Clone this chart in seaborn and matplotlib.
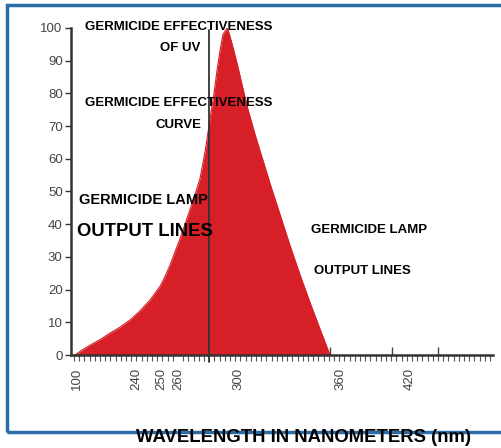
import numpy as np
import matplotlib
matplotlib.use("Agg")
import matplotlib.pyplot as plt
import matplotlib.patches as mpatches
from matplotlib.ticker import FixedLocator, NullFormatter
import seaborn as sns

# germicide effectiveness curve (wavelength nm, relative %)
wavelength = [95.3, 111.9, 130.8, 154.6, 178.3, 202.0, 225.8, 241.6, 245.6, 249.6, 252.4, 255.3,
              258.2, 261.3, 264.7, 268, 271.3, 274.7, 278, 281.3, 284, 286, 288, 290, 292.7,
              294, 296.7, 300, 302.9, 305.9, 310, 312.9, 315.9, 318.8, 324.7, 330.6, 336.5,
              342.4, 348.2, 354.1]
effectiveness = [0, 1.5, 3, 4.7, 6.7, 8.5, 10.7, 13.5, 16.8, 21, 24, 27.5,
                 31.5, 35.5, 40, 44.5, 49, 54, 62, 72, 80, 87, 93, 98, 100,
                 98.5, 94, 88, 81.5, 75, 67.5, 62.5, 57.5, 52.5, 43, 33.5, 24.5,
                 16, 8, 0]
lamp_line = 280.7

x_ticks = [100, 240, 250, 260, 300, 360, 420]
y_ticks = list(range(0, 101, 10))

# the original axis is not linear: anchor wavelengths -> position along the axis
scale_nm = [85.8, 100, 240, 250, 260, 300, 360, 420, 491.1]
scale_pos = [71, 77, 136, 161, 178, 238, 340, 410, 493]

def forward(v):
    return np.interp(v, scale_nm, scale_pos)

def inverse(p):
    return np.interp(p, scale_pos, scale_nm)

sns.set_style("ticks")
plt.rcParams['font.family'] = ['Liberation Sans', 'DejaVu Sans']

red = '#d61f27'
fig = plt.figure(figsize=(5.01, 4.48), dpi=100)
ax = fig.add_axes([71/501, 1-355/448, 422/501, 327/448])
ax.set_xscale('function', functions=(forward, inverse))

sns.lineplot(x=wavelength, y=effectiveness, color=red, lw=0.8, ax=ax)
ax.fill_between(wavelength, effectiveness, color=red, lw=0)

ax.set_xlim(85.8, 491.1)
ax.set_ylim(0, 100)
ax.set_xticks(x_ticks)
ax.set_xticklabels([str(t) for t in x_ticks], rotation=90, fontsize=9.5, color='#444')
ax.set_yticks(y_ticks)
ax.set_yticklabels([str(t) for t in y_ticks], fontsize=9.5, color='#444')
ax.xaxis.set_minor_locator(FixedLocator(inverse(np.arange(74, 494, 5.2))))
ax.xaxis.set_minor_formatter(NullFormatter())
ax.tick_params(axis='x', which='major', length=0, pad=9)
ax.tick_params(axis='x', which='minor', length=4, width=0.8, color='#555')
ax.tick_params(axis='y', length=4, width=1, color='#333', pad=2)
sns.despine(ax=ax)
for s in ['left', 'bottom']:
    ax.spines[s].set_linewidth(1.8)
    ax.spines[s].set_color('#333')

ax.axvline(lamp_line, ymin=-0.022, ymax=0.994, clip_on=False, color='#333', lw=1.3)
ax.vlines(inverse(np.array([330, 392, 438])), 0, 2.5, color='#444', lw=1)

def label(x, y, s, size):
    fig.text(x/501, 1-y/448, s, ha='center', va='center', fontsize=size, fontweight='bold', color='black')

label(179, 27, 'GERMICIDE EFFECTIVENESS', 9.5)
label(180, 48, 'OF UV', 9.5)
label(179, 103, 'GERMICIDE EFFECTIVENESS', 9.5)
label(179, 125, 'CURVE', 9.5)
label(143, 200, 'GERMICIDE LAMP', 10.5)
label(145, 231, 'OUTPUT LINES', 13.3)
label(369, 230, 'GERMICIDE LAMP', 9.5)
label(362, 271, 'OUTPUT LINES', 9.5)

fig.patches.append(mpatches.Rectangle((6.5/501, 1-432/448), 1.2, 427/448, transform=fig.transFigure,
                                      fill=False, edgecolor='#2a6ca6', lw=2.5))
label(304, 437, 'WAVELENGTH IN NANOMETERS (nm)', 13.3)

fig.savefig('out.png', dpi=100)
